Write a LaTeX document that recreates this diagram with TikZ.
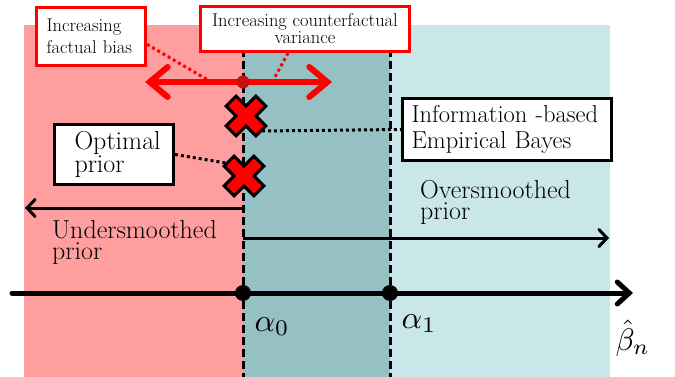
\documentclass[tikz,border=0pt]{standalone}
\usetikzlibrary{arrows.meta,calc}

\definecolor{underbg}{RGB}{255,158,158}
\definecolor{optbg}{RGB}{149,193,196}
\definecolor{overbg}{RGB}{201,230,232}
\definecolor{pointred}{RGB}{200,16,16}

\tikzset{
  smalltext/.style={font=\fontsize{18.5}{22}\selectfont},
  bigtext/.style={font=\fontsize{26}{21}\selectfont},
  mathlabel/.style={anchor=base west, inner sep=0pt, font=\fontsize{10}{12}\selectfont},
  redbox/.style={draw=red, line width=3pt, fill=white, inner ysep=0pt, smalltext},
  blackbox/.style={draw=black, line width=3pt, fill=white, inner ysep=0pt},
  divider/.style={line width=3pt, dash pattern=on 8pt off 4pt},
  axisline/.style={line width=5pt, line cap=round, -{Straight Barb[length=12pt,width=22pt,line cap=round]}},
  thinarrow/.style={line width=3pt, -{Straight Barb[length=8pt,width=17pt,line cap=round]}},
  redarrow/.style={red, line width=6pt, line cap=round,
    {Straight Barb[length=18pt,width=30pt,line cap=round]}-{Straight Barb[length=18pt,width=30pt,line cap=round]}},
  reddots/.style={red, line width=3pt, dash pattern=on 3pt off 3pt},
  blackdots/.style={black, line width=3pt, dash pattern=on 3pt off 3pt},
  dot/.style={circle, fill=black, inner sep=0pt, minimum size=16pt},
  xmark/.pic={
    \begin{scope}[rotate=45]
      \draw[line width=3pt, line join=miter, fill=red]
        (7,21) -- (7,7) -- (21,7) -- (21,-7) -- (7,-7) -- (7,-21)
        -- (-7,-21) -- (-7,-7) -- (-21,-7) -- (-21,7) -- (-7,7) -- (-7,21) -- cycle;
    \end{scope}
  }
}

\begin{document}
\begin{tikzpicture}[x=1pt, y=-1pt]
\useasboundingbox (0,0) rectangle (675,377);

% three regions of the estimate axis
\fill[underbg] (24,25) rectangle (243,377);
\fill[optbg] (243,25) rectangle (390,377);
\fill[overbg] (390,25) rectangle (610,377);

% region boundaries
\draw[divider] (243,25) -- (243,377);
\draw[divider] (390,25) -- (390,377);

% axis with the two thresholds
\coordinate (axstart) at (12,293);
\coordinate (axend) at (633,293);
\draw[axisline] (axstart) -- (axend);
\node[dot] (a0) at (243,293) {};
\node[dot] (a1) at (390,293) {};
\node[mathlabel, scale=3.2] (a0lab) at (254,331) {$\alpha_0$};
\node[mathlabel, scale=3.2] (a1lab) at (401,328) {$\alpha_1$};
\node[mathlabel, scale=3.1] (blab) at (615,350) {$\hat{\beta}_n$};

% under- and oversmoothing directions
\coordinate (uleft) at (25,208);
\coordinate (ustart) at (243,208);
\coordinate (ostart) at (243,238);
\coordinate (oright) at (609,238);
\draw[thinarrow] (ustart) -- (uleft);
\draw[thinarrow] (ostart) -- (oright);
\node[anchor=base west, align=left, text width=200pt, inner sep=0pt, bigtext] (under) at (52,238) {Undersmoothed\\prior};
\node[anchor=base west, align=left, text width=180pt, inner sep=0pt, bigtext] (over) at (420,198) {Oversmoothed\\prior};

% bias / variance trade-off
\coordinate (rl) at (145,82);
\coordinate (rr) at (332,82);
\coordinate (biasend) at (208,80);
\coordinate (varend) at (275,77);
\node[redbox, anchor=north west, align=left, text width=89pt, inner xsep=10pt, minimum height=58pt] (bias) at (35,6) {Increasing\\factual bias};
\node[redbox, anchor=north west, align=center, minimum width=209pt, minimum height=45pt,
      font=\fontsize{18.5}{17}\selectfont] (var) at (199,5) {Increasing counterfactual\\variance};
\draw[reddots] (bias.-8) -- (biasend);
\draw[reddots] ($(var.south west)!0.42!(var.south east)$) -- (varend);
\draw[redarrow] (rl) -- (rr);
\node[circle, fill=pointred, inner sep=0pt, minimum size=13pt] (origin) at (243,82) {};

% labelled estimators
\node[blackbox, anchor=north west, align=left, text width=79pt, inner xsep=20pt, minimum height=60pt,
      font=\fontsize{26}{21}\selectfont] (opt) at (53,123) {Optimal\\prior};
\node[blackbox, anchor=north west, align=left, text width=191pt, inner xsep=9pt, minimum height=62pt,
      font=\fontsize{24.5}{26}\selectfont] (ieb) at (401,97) {Information -based\\Empirical Bayes};
\coordinate (optend) at (232,164);
\coordinate (iebend) at (262,131);
\draw[blackdots] (opt.east) -- (optend);
\draw[blackdots] (iebend) -- (ieb.west);
\pic (x1) at (246,116) {xmark};
\pic (x2) at (244,176) {xmark};

\end{tikzpicture}
\end{document}
